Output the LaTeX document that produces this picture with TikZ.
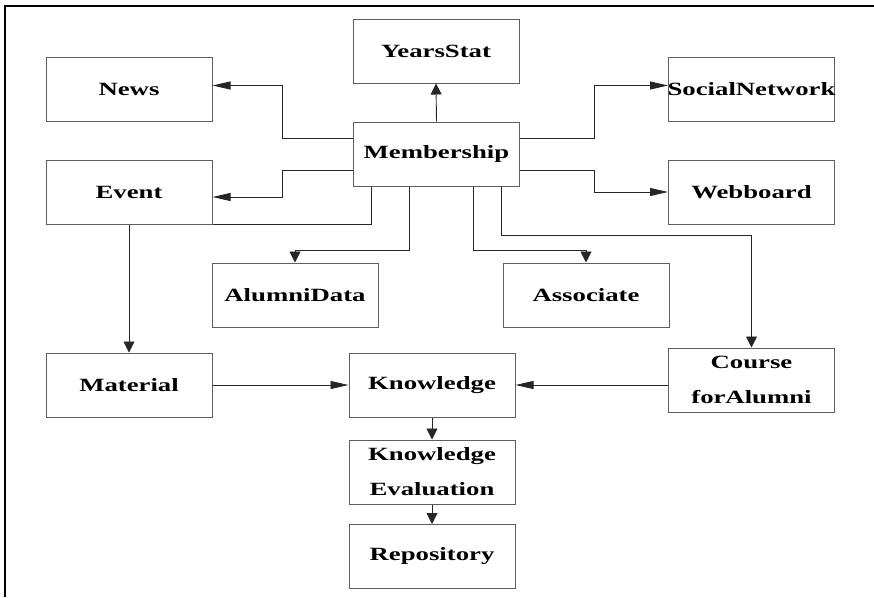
\documentclass[tikz,border=0pt]{standalone}
\usepackage{fontspec}
\usetikzlibrary{arrows.meta}
\newfontfamily\boxfont[FakeStretch=1.43]{Liberation Serif}
\definecolor{boxgray}{HTML}{5E5E5E}
\tikzset{module/.style={draw=boxgray,line width=1pt,minimum width=166pt,minimum height=64pt,
                        inner sep=2pt,align=center,
                        font=\boxfont\bfseries\fontsize{18.7}{35}\selectfont},
         link/.style={line width=0.9pt,draw=black!85},
         harr/.style={link,-{Triangle[length=18pt,width=8pt]}},
         varr/.style={link,-{Triangle[length=11pt,width=11pt]}},
         }

\begin{document}
\begin{tikzpicture}[x=1pt,y=-1pt]
\useasboundingbox (0,0) rectangle (874,597);
% frame
\draw[line width=2pt] (4.5,597) -- (4.5,5.5) -- (874,5.5);

\node[module] (news)       at (129,89.5)  {News};
\node[module] (event)      at (129,192)   {Event};
\node[module] (yearsstat)  at (436,51)    {YearsStat};
\node[module] (membership) at (436.5,154) {Membership};
\node[module] (social)     at (751.5,89.5){\makebox[0pt]{SocialNetwork}};
\node[module] (webboard)   at (751.5,192) {Webboard};
\node[module] (alumni)     at (295,295)   {AlumniData};
\node[module] (associate)  at (586,295)   {Associate};
\node[module] (material)   at (129,385)   {Material};
\node[module] (knowledge)  at (432,385)   {Knowledge};
\node[module] (course)     at (751.5,380) {Course\\forAlumni};
\node[module] (evaluation) at (432,472)   {Knowledge\\Evaluation};
\node[module] (repository) at (432,556.5) {Repository};

\draw[varr] (membership.north) -- (yearsstat.south);
\draw[harr] ([yshift=16pt]membership.west) -- ++(-71pt,0) |- ([yshift=4pt]news.east);
\draw[harr] ([yshift=-16pt]membership.west) -- ++(-71pt,0) |- ([yshift=-5pt]event.east);
\draw[harr] ([yshift=16pt]membership.east) -- ++(74pt,0) |- ([yshift=4pt]social.west);
\draw[harr] ([yshift=-16pt]membership.east) -- ++(74pt,0) |- (webboard.west);
\draw[link] ([xshift=18pt]membership.south west) |- (event.south east);
\draw[varr] ([xshift=56pt]membership.south west) -- ++(0,-64pt) -| (alumni.north);
\draw[varr] ([xshift=120pt]membership.south west) -- ++(0,-64pt) -| (associate.north);
\draw[varr] ([xshift=148pt]membership.south west) -- ++(0,-49pt) -| (course.north);
\draw[varr] (event.south) -- (material.north);
\draw[harr] (material.east) -- (knowledge.west);
\draw[harr] (course.west |- knowledge.east) -- (knowledge.east);
\draw[varr] (knowledge.south) -- (evaluation.north);
\draw[varr] (evaluation.south) -- (repository.north);
\end{tikzpicture}
\end{document}
